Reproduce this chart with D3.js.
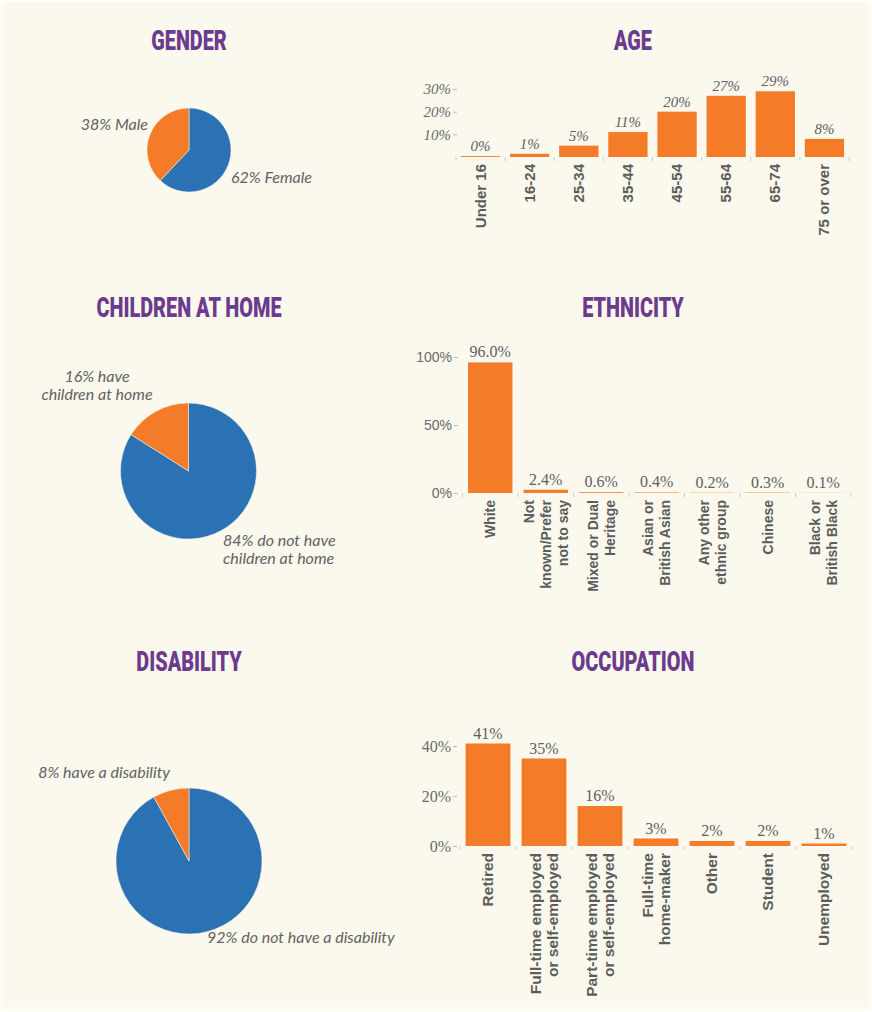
<!DOCTYPE html>
<html>
<head>
<meta charset="utf-8">
<script src="https://cdn.jsdelivr.net/npm/d3@7"></script>
<style>
  body { margin: 0; background: #fbf8ee; }
  svg { display: block; }
  .title { font-family: Roboto, sans-serif; font-weight: 900; font-size: 28px; fill: #6b3b8e; }
  .pielabel { font-family: Lato, sans-serif; font-style: italic; font-size: 16px; fill: #626262; }
  .cat { font-family: "Liberation Sans", Arial, sans-serif; font-weight: bold; fill: #5c5c5c; }
  .val { font-family: "Liberation Serif", serif; font-size: 16px; fill: #5f5f5f; }
  .tick text { fill: #6a6a6a; }
  .tick line { stroke: #bbb; }
</style>
</head>
<body>
<svg id="chart" width="872" height="1012"></svg>
<script>
// pies
var genderLabels = ["Female", "Male"];
var genderValues = [62, 38];
var childrenLabels = ["do not have children at home", "have children at home"];
var childrenValues = [84, 16];
var disabilityLabels = ["do not have a disability", "have a disability"];
var disabilityValues = [92, 8];

// bars
var ageCategories = ["Under 16", "16-24", "25-34", "35-44", "45-54", "55-64", "65-74", "75 or over"];
var ageValues = [0.4, 1.4, 5, 11, 20, 27, 29, 8];
var ageTicks = [10, 20, 30];

var ethnicityCategories = ["White", "Not|known/Prefer|not to say", "Mixed or Dual|Heritage", "Asian or|British Asian",
  "Any other|ethnic group", "Chinese", "Black or|British Black"];
var ethnicityValues = [96.0, 2.4, 0.6, 0.4, 0.2, 0.3, 0.1];
var ethnicityTicks = [0, 50, 100];

var occupationCategories = ["Retired", "Full-time employed|or self-employed", "Part-time employed|or self-employed",
  "Full-time|home-maker", "Other", "Student", "Unemployed"];
var occupationValues = [41, 35, 16, 3, 2, 2, 1];
var occupationTicks = [0, 20, 40];

var orange = "#f47b27", blue = "#2a72b3";
var svg = d3.select("#chart");

// faint frame at the edge
svg.append("rect").attr("x", 0).attr("y", 0).attr("width", 872).attr("height", 1012)
  .attr("fill", "#fbf8ee");
svg.append("rect").attr("x", 1.5).attr("y", 1.5).attr("width", 869).attr("height", 1009)
  .attr("fill", "none").attr("stroke", "#fefdf8").attr("stroke-width", 3);
svg.append("rect").attr("x", 5.5).attr("y", 5.5).attr("width", 861).attr("height", 1001)
  .attr("fill", "none").attr("stroke", "#fdfcf6").attr("stroke-width", 1);

function title(txt, cx, y) {
  svg.append("text").attr("class", "title")
    .attr("text-anchor", "middle")
    .attr("transform", "translate(" + cx + "," + y + ") scale(0.71,1)")
    .text(txt);
}
title("GENDER", 189, 50);
title("AGE", 633, 50);
title("CHILDREN AT HOME", 189, 317);
title("ETHNICITY", 633, 317);
title("DISABILITY", 189, 671);
title("OCCUPATION", 633, 671);

function drawPie(values, cx, cy, r) {
  var pie = d3.pie().sort(null);
  var arc = d3.arc().innerRadius(0).outerRadius(r);
  svg.append("g").attr("transform", "translate(" + cx + "," + cy + ")")
    .selectAll("path").data(pie(values)).enter().append("path")
    .attr("d", arc)
    .attr("fill", function(d, i) { return i == 0 ? blue : orange; })
    .attr("stroke", "#fbf8ee").attr("stroke-width", 0.5);
}

function pieLabel(lines, x, y, anchor) {
  var t = svg.append("text").attr("class", "pielabel").attr("text-anchor", anchor);
  lines.forEach(function(l, i) {
    t.append("tspan").attr("x", x).attr("y", y + i * 18).text(l);
  });
}

drawPie(genderValues, 189, 150, 42);
pieLabel([genderValues[1] + "% " + genderLabels[1]], 148, 130, "end");
pieLabel([genderValues[0] + "% " + genderLabels[0]], 231, 183, "start");

drawPie(childrenValues, 188.5, 471, 68);
pieLabel([childrenValues[1] + "% have", "children at home"], 97, 382, "middle");
pieLabel([childrenValues[0] + "% do not have", "children at home"], 223, 546, "start");

drawPie(disabilityValues, 189, 861, 73);
pieLabel([disabilityValues[1] + "% " + disabilityLabels[1]], 170, 778, "end");
pieLabel([disabilityValues[0] + "% " + disabilityLabels[0]], 207, 943, "start");

function drawBars(cfg) {
  var x = d3.scaleBand().domain(cfg.cats).range(cfg.xr).paddingInner(0.2).paddingOuter(0.1);
  var y = d3.scaleLinear().domain(cfg.yd).range(cfg.yr);
  var g = svg.append("g");

  // y axis
  var ya = g.append("g").attr("transform", "translate(" + cfg.axisX + ",0)")
    .call(d3.axisLeft(y).tickValues(cfg.ticks).tickSize(4).tickPadding(2)
      .tickFormat(function(d) { return d + "%"; }));
  ya.select(".domain").remove();
  ya.selectAll("text").style("font-family", cfg.tickFont).style("font-style", cfg.tickStyle || "normal")
    .style("font-size", cfg.tickSize + "px");

  // faint ticks on the band edges
  var edges = cfg.cats.map(function(c) { return x(c) - x.step() * x.paddingInner() / 2; });
  edges.push(x(cfg.cats[cfg.cats.length - 1]) + x.bandwidth() + x.step() * x.paddingInner() / 2);
  g.selectAll(".edge").data(edges).enter().append("line")
    .attr("x1", function(d) { return d; }).attr("x2", function(d) { return d; })
    .attr("y1", y(0)).attr("y2", y(0) + 4).attr("stroke", "#ccc");

  g.selectAll(".bar").data(cfg.vals).enter().append("rect")
    .attr("x", function(d, i) { return x(cfg.cats[i]); })
    .attr("width", x.bandwidth())
    .attr("y", function(d) { return y(d); })
    .attr("height", function(d) { return y(0) - y(d); })
    .attr("fill", orange);

  g.selectAll(".val").data(cfg.vals).enter().append("text")
    .attr("class", "val")
    .style("font-style", cfg.valStyle || "normal")
    .style("font-size", cfg.valSize + "px")
    .attr("text-anchor", "middle")
    .attr("x", function(d, i) { return x(cfg.cats[i]) + x.bandwidth() / 2; })
    .attr("y", function(d) { return y(d) - 5; })
    .text(cfg.fmt);

  g.selectAll(".cat").data(cfg.cats).enter().append("text")
    .attr("class", "cat")
    .style("font-size", cfg.catSize + "px")
    .attr("text-anchor", "end")
    .attr("transform", function(d) {
      return "translate(" + (x(d) + x.bandwidth() / 2) + "," + (y(0) + 7) + ") rotate(-90)";
    })
    .each(function(d) {
      var lines = d.split("|"), t = d3.select(this);
      lines.forEach(function(l, i) {
        t.append("tspan").attr("x", 0)
          .attr("y", (i - (lines.length - 1) / 2) * 17 + 5)
          .text(l);
      });
    });
}

drawBars({
  cats: ageCategories, vals: ageValues, ticks: ageTicks,
  xr: [456, 849], yd: [0, 30], yr: [157, 89], axisX: 457,
  tickFont: "Liberation Serif", tickStyle: "italic", tickSize: 15,
  valStyle: "italic", valSize: 15, catSize: 15,
  fmt: function(d) { return Math.round(d) + "%"; }
});

drawBars({
  cats: ethnicityCategories, vals: ethnicityValues, ticks: ethnicityTicks,
  xr: [462.5, 851], yd: [0, 100], yr: [493, 357], axisX: 458,
  tickFont: "Liberation Sans", tickSize: 14,
  valSize: 16, catSize: 14,
  fmt: function(d) { return d.toFixed(1) + "%"; }
});

drawBars({
  cats: occupationCategories, vals: occupationValues, ticks: occupationTicks,
  xr: [460, 852], yd: [0, 40], yr: [846, 746], axisX: 457,
  tickFont: "Liberation Serif", tickSize: 16,
  valSize: 16, catSize: 15.5,
  fmt: function(d) { return d + "%"; }
});
</script>
</body>
</html>
